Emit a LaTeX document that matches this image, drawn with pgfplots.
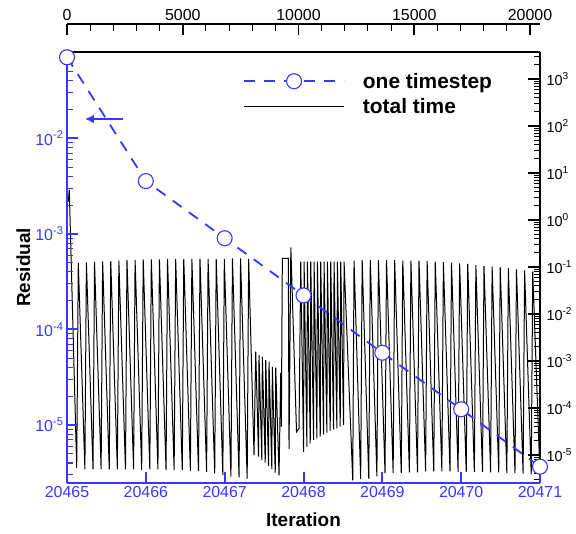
\documentclass[border=0pt]{standalone}
\usepackage{fontspec}
\setmainfont{Liberation Sans}
\usepackage{pgfplots}
\pgfplotsset{compat=1.18}
\usetikzlibrary{arrows.meta}
\definecolor{rblue}{RGB}{55,55,255}
\begin{document}
\begin{tikzpicture}
\useasboundingbox (-67bp,-51bp) rectangle (509bp,483bp);
% ---------- top offset axis (iterations 0..20000) ----------
\begin{axis}[
  at={(0bp,431bp)}, anchor=south west,
  scale only axis, width=473bp, height=28bp,
  xmin=0, xmax=20430, ymin=0, ymax=1,
  scaled x ticks=false,
  axis x line*=top, axis y line=none,
  axis line style={-, black, line width=2bp},
  xtick={0,5000,10000,15000,20000},
  xticklabels={0,5000,10000,15000,20000},
  minor x tick num=4,
  tick align=inside,
  major tick length=11bp, minor tick length=7.5bp,
  major tick style={black, line width=1.6bp},
  minor tick style={black, line width=1bp},
  xticklabel style={font=\fontsize{16}{16}\selectfont, text=black, inner sep=3bp},
]
\addplot[draw=none] coordinates {(0,0.5)};
\end{axis}
% ---------- black axis (top/right) ----------
\begin{axis}[
  at={(0bp,0bp)}, anchor=south west,
  scale only axis, width=473bp, height=431bp,
  xmin=0, xmax=20430,
  scaled x ticks=false,
  ymode=log, ymin=2.54e-6, ymax=3750,
  axis x line*=top, axis y line*=right,
  axis line style={-, black, line width=2.2bp},
  xtick=\empty,
  ytick={1e-5,1e-4,1e-3,1e-2,1e-1,1,10,100,1000},
  yticklabels={10\textsuperscript{-5},10\textsuperscript{-4},10\textsuperscript{-3},10\textsuperscript{-2},10\textsuperscript{-1},10\textsuperscript{0},10\textsuperscript{1},10\textsuperscript{2},10\textsuperscript{3}},
  minor ytick={3e-6,4e-6,5e-6,6e-6,7e-6,8e-6,9e-6,
    2e-5,3e-5,4e-5,5e-5,6e-5,7e-5,8e-5,9e-5,
    2e-4,3e-4,4e-4,5e-4,6e-4,7e-4,8e-4,9e-4,
    2e-3,3e-3,4e-3,5e-3,6e-3,7e-3,8e-3,9e-3,
    2e-2,3e-2,4e-2,5e-2,6e-2,7e-2,8e-2,9e-2,
    0.2,0.3,0.4,0.5,0.6,0.7,0.8,0.9,
    2,3,4,5,6,7,8,9,
    20,30,40,50,60,70,80,90,
    200,300,400,500,600,700,800,900,
    2000,3000},
  tick align=inside,
  major tick length=12bp, minor tick length=6bp,
  major tick style={black, line width=1.8bp},
  minor tick style={black, line width=0.9bp},
  yticklabel style={font=\fontsize{14.5}{14.5}\selectfont, text=black, xshift=3bp},
  legend style={at={(0.372,0.952)}, anchor=north west, draw=none, fill=none,
    inner sep=0pt, font=\fontsize{21}{21}\selectfont\bfseries, row sep=9bp,
    nodes={inner sep=0pt}, cells={anchor=west},
    /tikz/every odd column/.append style={column sep=18bp}},
  legend image code/.code={\draw[mark repeat=2,mark phase=2,#1] plot coordinates {(0bp,0bp) (50bp,0bp) (100bp,0bp)};},
]
\addlegendimage{rblue, line width=1.8bp, dash pattern=on 11bp off 9bp, mark=*, mark size=7.5bp, mark options={solid, fill=white, draw=rblue, line width=1.1bp}}
\addlegendentry{one timestep}
\addplot[black, line width=1bp] coordinates {
(56,2.45) (99,4.35) (419,5.3e-6)
(488,0.123) (773,4.96e-6)
(838,0.126) (1124,4.96e-6)
(1189,0.128) (1474,4.96e-6)
(1539,0.132) (1825,4.96e-6)
(1890,0.134) (2175,4.96e-6)
(2240,0.136) (2526,4.96e-6)
(2590,0.141) (2876,4.96e-6)
(2941,0.141) (3226,4.8e-6)
(3291,0.146) (3577,4.96e-6)
(3642,0.146) (3927,4.96e-6)
(3992,0.146) (4278,4.8e-6)
(4342,0.148) (4628,4.8e-6)
(4693,0.148) (4979,4.8e-6)
(5043,0.148) (5329,4.63e-6)
(5394,0.148) (5680,4.57e-6)
(5744,0.148) (6030,4.4e-6)
(6094,0.148) (6380,4.07e-6)
(6445,0.148) (6731,3.75e-6)
(6795,0.148) (7081,3.46e-6)
(7146,0.153) (7432,3.36e-6)
(7496,0.153) (7782,3.13e-6)
(7846,0.148)
(8078,1.0e-5) (8152,1.58e-3) (8273,9.2e-6) (8294,1.35e-3) (8415,7.8e-6) (8437,1.24e-3)
(8562,6.9e-6) (8584,1.05e-3) (8705,5.9e-6) (8726,9.7e-4) (8847,5.0e-6) (8869,7.5e-4)
(8994,4.2e-6) (9016,7.2e-4) (9158,3.7e-6) (9232,5.6e-4) (9258,4.0e-5) (9301,0.153)
(9560,0.153) (9590,1.35e-5) (9668,0.26) (9914,3.1e-5) (10022,3.7e-5) (10096,0.13)
(10218,1.17e-5) (10240,0.13) (10362,1.5e-5) (10384,0.13) (10506,1.78e-5) (10528,0.13)
(10650,2.1e-5) (10672,0.13) (10794,2.26e-5) (10816,0.13) (10938,2.45e-5) (10959,0.13)
(11081,2.75e-5) (11103,0.13) (11225,3.0e-5) (11247,0.13) (11369,3.3e-5) (11391,0.13)
(11513,3.5e-5) (11535,0.13) (11657,3.7e-5) (11679,0.13) (11801,4.0e-5) (11823,0.13)
(11945,4.4e-5) (11967,0.13)
(12342,2.9e-6)
(12398,0.137) (12684,3.1e-6) (12749,0.14) (13035,3.1e-6) (13100,0.14) (13385,3.5e-6)
(13450,0.14) (13736,4.1e-6) (13801,0.14) (14087,4.1e-6) (14152,0.14) (14438,4.1e-6)
(14503,0.137) (14789,4.3e-6) (14854,0.137) (15139,4.3e-6) (15204,0.137) (15490,4.5e-6)
(15555,0.133) (15841,4.5e-6) (15906,0.13) (16192,4.5e-6) (16257,0.127) (16543,4.5e-6)
(16608,0.124) (16893,4.4e-6) (16958,0.12) (17244,4.4e-6) (17309,0.116) (17595,4.4e-6)
(17660,0.11) (17946,4.4e-6) (18011,0.105) (18297,4.3e-6) (18362,0.102) (18647,4.3e-6)
(18712,0.099) (18998,4.1e-6) (19063,0.094) (19349,4.1e-6) (19414,0.089) (19700,4.0e-6)
(19765,0.085) (20051,3.9e-6) (20116,0.08) (20430,3.6e-6)
};
\addlegendentry{total time}
\end{axis}
% ---------- blue axis (bottom/left) ----------
\begin{axis}[
  at={(0bp,0bp)}, anchor=south west,
  scale only axis, width=473bp, height=431bp,
  xmin=20465, xmax=20471,
  scaled x ticks=false,
  ymode=log, ymin=2.47e-6, ymax=0.080,
  axis x line*=bottom, axis y line*=left,
  axis line style={-, rblue, line width=2.6bp},
  clip=false,
  xtick={20465,20466,20467,20468,20469,20470,20471},
  xticklabels={20465,20466,20467,20468,20469,20470,20471},
  ytick={1e-5,1e-4,1e-3,1e-2},
  yticklabels={10\textsuperscript{-5},10\textsuperscript{-4},10\textsuperscript{-3},10\textsuperscript{-2}},
  minor ytick={3e-6,4e-6,5e-6,6e-6,7e-6,8e-6,9e-6,
    2e-5,3e-5,4e-5,5e-5,6e-5,7e-5,8e-5,9e-5,
    2e-4,3e-4,4e-4,5e-4,6e-4,7e-4,8e-4,9e-4,
    2e-3,3e-3,4e-3,5e-3,6e-3,7e-3,8e-3,9e-3,
    2e-2,3e-2,4e-2,5e-2,6e-2,7e-2},
  minor x tick num=0,
  tick align=inside,
  major tick length=11bp, minor tick length=6bp,
  major tick style={rblue, line width=2bp},
  minor tick style={rblue, line width=1.1bp},
  ticklabel style={font=\fontsize{16}{16}\selectfont, text=rblue},
  xlabel={Iteration}, ylabel={Residual},
  label style={font=\fontsize{19}{19}\selectfont\bfseries, text=black, inner sep=0pt},
  xlabel style={at={(axis description cs:0.5,-0.1014)}, anchor=base},
  ylabel style={at={(axis description cs:-0.0782,0.5)}, anchor=base},
]
\addplot[rblue, line width=1.8bp, dash pattern=on 11bp off 9bp, mark=*, mark size=7.5bp,
  mark options={solid, fill=white, draw=rblue, line width=1.1bp}] coordinates {
(20465,0.0705) (20466,3.57e-3) (20467,9.0e-4) (20468,2.27e-4) (20469,5.7e-5) (20470,1.46e-5) (20471,3.66e-6)
};
\draw[rblue, line width=2bp, -{Latex[length=9bp,width=9bp]}] (axis cs:20465.714,0.0159) -- (axis cs:20465.228,0.0159);
\end{axis}
\end{tikzpicture}
\end{document}
